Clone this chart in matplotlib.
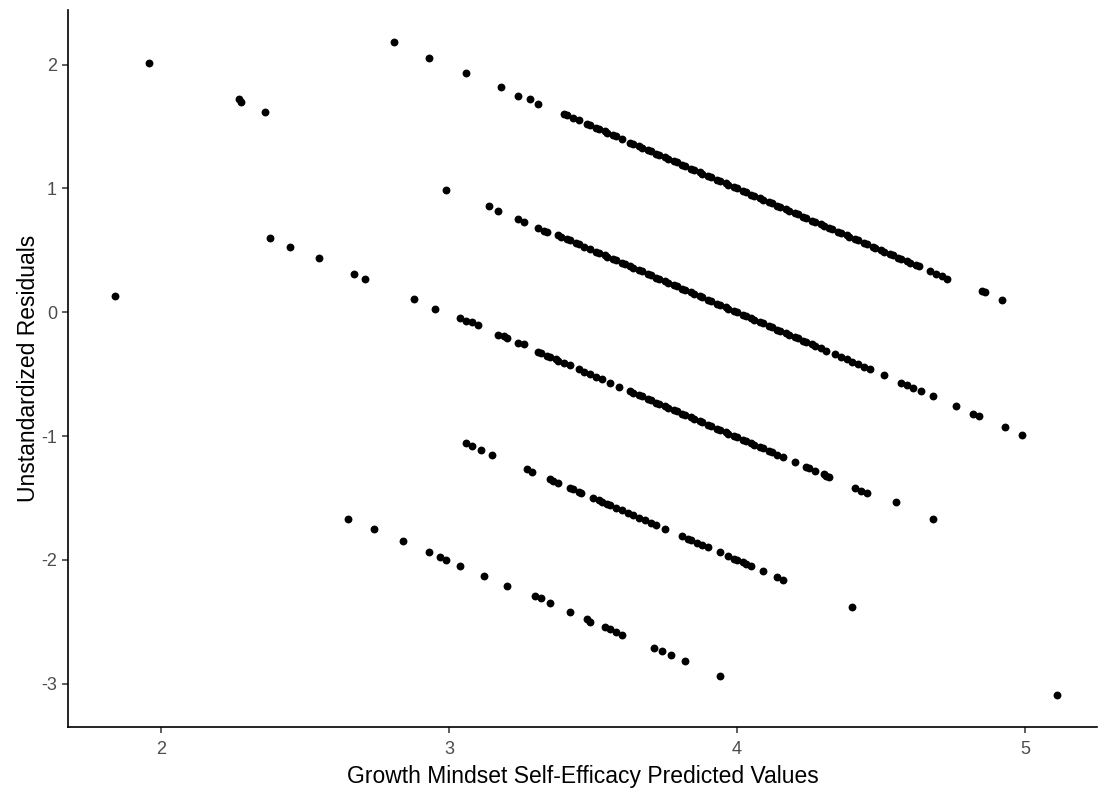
import matplotlib.pyplot as plt
import numpy as np

# predicted values (x) and unstandardized residuals (y), grouped by the diagonal band they sit on
pred_a = [2.81, 2.93, 3.06, 3.18, 3.24, 3.28, 3.31,
          3.40, 3.41, 3.43, 3.45, 3.48, 3.49, 3.51, 3.52, 3.54, 3.55, 3.57, 3.58, 3.60,
          3.63, 3.64, 3.66, 3.67, 3.69, 3.70, 3.72, 3.73, 3.75, 3.76, 3.78, 3.79, 3.81,
          3.82, 3.84, 3.85, 3.87, 3.88, 3.90, 3.91, 3.93, 3.94, 3.96, 3.97, 3.99, 4.00,
          4.02, 4.03, 4.05, 4.06, 4.08, 4.09, 4.11, 4.12, 4.14, 4.15, 4.17, 4.18, 4.20,
          4.21, 4.23, 4.24, 4.26, 4.27, 4.29, 4.30, 4.32, 4.33, 4.35, 4.36, 4.38, 4.39,
          4.41, 4.42, 4.44, 4.45, 4.47, 4.48, 4.50, 4.51, 4.53, 4.54, 4.56, 4.57, 4.59,
          4.60, 4.62, 4.63, 4.67, 4.69, 4.71, 4.73, 4.85, 4.86, 4.92]
resid_a = [2.18, 2.05, 1.93, 1.82, 1.75, 1.72, 1.68,
           1.60, 1.59, 1.57, 1.55, 1.52, 1.51, 1.49, 1.48, 1.46, 1.45, 1.43, 1.42, 1.40,
           1.37, 1.36, 1.34, 1.33, 1.31, 1.30, 1.28, 1.27, 1.25, 1.24, 1.22, 1.21, 1.19,
           1.18, 1.16, 1.15, 1.13, 1.12, 1.10, 1.09, 1.07, 1.06, 1.04, 1.03, 1.01, 1.00,
           0.98, 0.97, 0.95, 0.94, 0.92, 0.91, 0.89, 0.88, 0.86, 0.85, 0.83, 0.82, 0.80,
           0.79, 0.77, 0.76, 0.74, 0.73, 0.71, 0.70, 0.68, 0.67, 0.65, 0.64, 0.62, 0.61,
           0.59, 0.58, 0.56, 0.55, 0.53, 0.52, 0.50, 0.49, 0.47, 0.46, 0.44, 0.43, 0.41,
           0.40, 0.38, 0.37, 0.33, 0.31, 0.29, 0.27, 0.17, 0.16, 0.10]

pred_b = [1.96, 2.27, 2.28, 2.36, 2.99, 3.14, 3.17, 3.24, 3.26, 3.31, 3.33, 3.34,
          3.38, 3.39, 3.41, 3.42, 3.44, 3.45, 3.47, 3.49, 3.51, 3.52, 3.54, 3.55, 3.57,
          3.58, 3.60, 3.61, 3.63, 3.64, 3.66, 3.67, 3.69, 3.70, 3.72, 3.73, 3.75, 3.76,
          3.78, 3.79, 3.81, 3.82, 3.84, 3.85, 3.87, 3.88, 3.90, 3.91, 3.93, 3.94, 3.96,
          3.97, 3.99, 4.00, 4.02, 4.03, 4.05, 4.06, 4.08, 4.09, 4.11, 4.12, 4.14, 4.15,
          4.17, 4.18, 4.20, 4.21, 4.23, 4.24, 4.26, 4.27, 4.29, 4.31, 4.34, 4.36, 4.38,
          4.40, 4.42, 4.44, 4.46, 4.51, 4.57, 4.59, 4.61, 4.64, 4.68, 4.76, 4.82, 4.84,
          4.93, 4.99]
resid_b = [2.01, 1.72, 1.70, 1.62, 0.99, 0.86, 0.82, 0.75, 0.73, 0.68, 0.66, 0.65,
           0.62, 0.61, 0.59, 0.58, 0.56, 0.55, 0.53, 0.51, 0.49, 0.48, 0.46, 0.45, 0.43,
           0.42, 0.40, 0.39, 0.37, 0.36, 0.34, 0.33, 0.31, 0.30, 0.28, 0.27, 0.25, 0.24,
           0.22, 0.21, 0.19, 0.18, 0.16, 0.15, 0.13, 0.12, 0.10, 0.09, 0.07, 0.06, 0.04,
           0.03, 0.01, 0.00, -0.02, -0.03, -0.05, -0.06, -0.08, -0.09, -0.11, -0.12, -0.14,
           -0.15, -0.17, -0.18, -0.20, -0.21, -0.23, -0.24, -0.26, -0.27, -0.29, -0.31,
           -0.34, -0.36, -0.38, -0.40, -0.42, -0.44, -0.46, -0.51, -0.57, -0.59, -0.61,
           -0.64, -0.68, -0.76, -0.82, -0.84, -0.93, -0.99]

pred_c = [2.38, 2.45, 2.55, 2.67, 2.71, 2.88, 2.95, 3.04, 3.06, 3.08, 3.10, 3.17,
          3.19, 3.20, 3.24, 3.26, 3.31, 3.32, 3.34, 3.35, 3.37, 3.38, 3.40, 3.42, 3.45,
          3.47, 3.49, 3.51, 3.53, 3.56, 3.59, 3.63, 3.64, 3.66, 3.67, 3.69, 3.70, 3.72,
          3.73, 3.75, 3.76, 3.78, 3.79, 3.81, 3.82, 3.84, 3.85, 3.87, 3.88, 3.90, 3.91,
          3.93, 3.94, 3.96, 3.97, 3.99, 4.00, 4.02, 4.03, 4.05, 4.06, 4.08, 4.09, 4.11,
          4.12, 4.14, 4.16, 4.20, 4.24, 4.25, 4.27, 4.30, 4.31, 4.32, 4.41, 4.43, 4.45,
          4.55, 4.68]
resid_c = [0.60, 0.53, 0.44, 0.31, 0.27, 0.11, 0.03, -0.05, -0.07, -0.08, -0.10, -0.18,
           -0.19, -0.21, -0.25, -0.26, -0.32, -0.33, -0.35, -0.36, -0.38, -0.39, -0.41,
           -0.43, -0.46, -0.48, -0.50, -0.52, -0.54, -0.57, -0.60, -0.64, -0.65, -0.67,
           -0.68, -0.70, -0.71, -0.73, -0.74, -0.76, -0.77, -0.79, -0.80, -0.82, -0.83,
           -0.85, -0.86, -0.88, -0.89, -0.91, -0.92, -0.94, -0.95, -0.97, -0.98, -1.00,
           -1.01, -1.03, -1.04, -1.06, -1.07, -1.09, -1.10, -1.12, -1.13, -1.15, -1.17,
           -1.21, -1.25, -1.26, -1.28, -1.31, -1.32, -1.33, -1.42, -1.44, -1.46, -1.53,
           -1.67]

pred_d = [1.84, 3.06, 3.08, 3.11, 3.15, 3.27, 3.29, 3.35, 3.36, 3.38, 3.42, 3.43,
          3.45, 3.46, 3.50, 3.52, 3.53, 3.55, 3.56, 3.58, 3.60, 3.62, 3.64, 3.66, 3.68,
          3.70, 3.72, 3.75, 3.81, 3.83, 3.84, 3.86, 3.88, 3.90, 3.94, 3.97, 3.99, 4.00,
          4.02, 4.03, 4.05, 4.09, 4.14, 4.16, 4.40, 5.11]
resid_d = [0.13, -1.06, -1.08, -1.11, -1.15, -1.27, -1.29, -1.35, -1.36, -1.38, -1.42,
           -1.43, -1.45, -1.46, -1.50, -1.52, -1.53, -1.55, -1.56, -1.58, -1.60, -1.62,
           -1.64, -1.66, -1.68, -1.70, -1.72, -1.75, -1.81, -1.83, -1.84, -1.86, -1.88,
           -1.90, -1.94, -1.97, -1.99, -2.00, -2.02, -2.03, -2.05, -2.09, -2.14, -2.16,
           -2.38, -3.09]

pred_e = [2.65, 2.74, 2.84, 2.93, 2.97, 2.99, 3.04, 3.12, 3.20, 3.30, 3.32, 3.35,
          3.42, 3.48, 3.49, 3.54, 3.56, 3.58, 3.60, 3.71, 3.74, 3.77, 3.82, 3.94]
resid_e = [-1.67, -1.75, -1.85, -1.94, -1.98, -2.00, -2.05, -2.13, -2.21, -2.29, -2.31,
           -2.35, -2.42, -2.48, -2.50, -2.54, -2.56, -2.58, -2.61, -2.71, -2.74, -2.77,
           -2.82, -2.94]

x_ticks = [2, 3, 4, 5]
y_ticks = [-3, -2, -1, 0, 1, 2]

plt.rcParams['font.family'] = ['Liberation Sans', 'DejaVu Sans']

fig = plt.figure(figsize=(11.02, 7.93), dpi=100)
ax = fig.add_axes([0.0617, 0.0832, 0.934, 0.904])

pred = np.concatenate([pred_a, pred_b, pred_c, pred_d, pred_e])
resid = np.concatenate([resid_a, resid_b, resid_c, resid_d, resid_e])
ax.scatter(pred, resid, s=32, color='black', linewidths=0, zorder=3)

ax.set_xlim(1.678, 5.25)
ax.set_ylim(-3.35, 2.44)
ax.set_xticks(x_ticks)
ax.set_yticks(y_ticks)

# classic look: only left and bottom axis lines
ax.spines['top'].set_visible(False)
ax.spines['right'].set_visible(False)
for side in ['left', 'bottom']:
    ax.spines[side].set_linewidth(1.2)
    ax.spines[side].set_color('black')
ax.tick_params(axis='x', length=4, width=1.1, color='#333333',
               labelcolor='#4D4D4D', labelsize=13, pad=6)
ax.tick_params(axis='y', length=4, width=1.1, color='#333333',
               labelcolor='#4D4D4D', labelsize=13, pad=4)
ax.set_xticklabels([str(v) for v in x_ticks], fontsize=13)
ax.set_yticklabels([str(v) for v in y_ticks], fontsize=13)

ax.set_xlabel('Growth Mindset Self-Efficacy Predicted Values', fontsize=16.5, labelpad=5)
ax.set_ylabel('Unstandardized Residuals', fontsize=16.5, labelpad=1)

plt.savefig('out.png', dpi=100)
